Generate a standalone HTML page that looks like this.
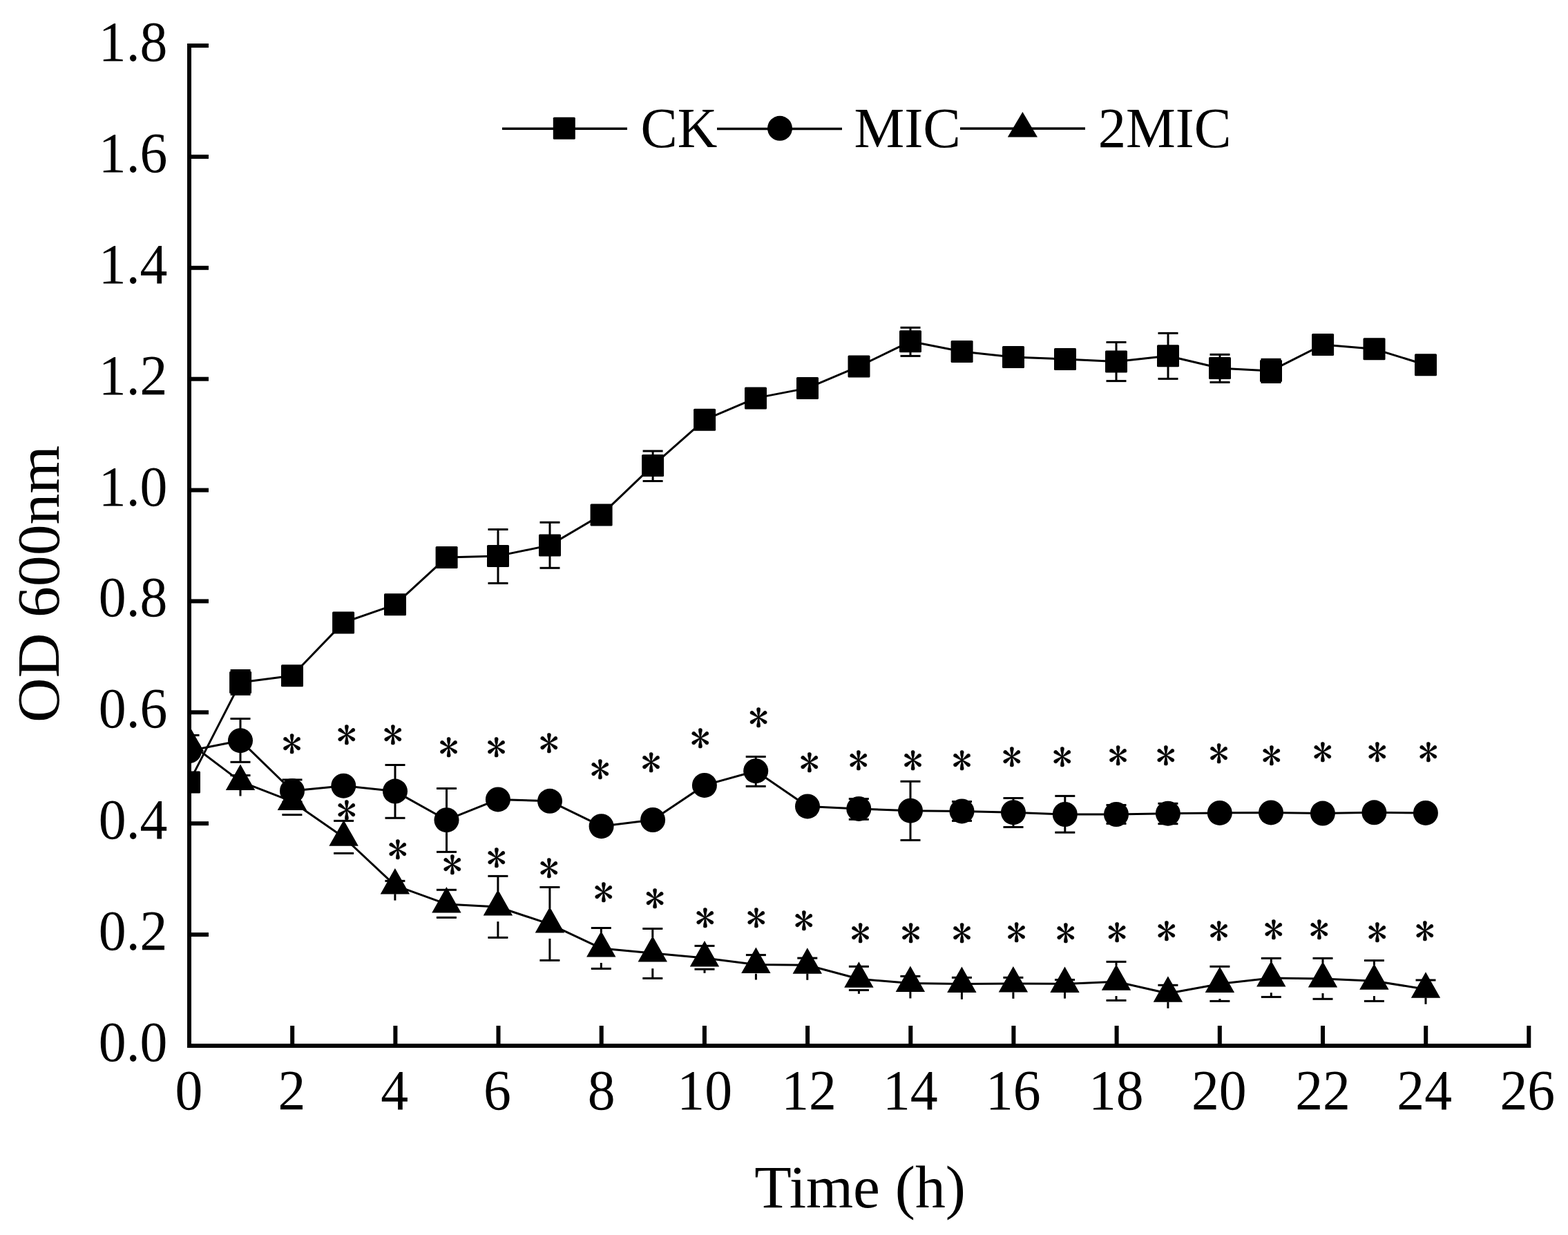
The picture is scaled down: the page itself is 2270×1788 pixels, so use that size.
<!DOCTYPE html>
<html><head><meta charset="utf-8"><title>OD600 growth curve</title>
<style>html,body{margin:0;padding:0;background:#fff;}svg{display:block;}</style>
</head><body>
<svg width="2270" height="1788" viewBox="0 0 2270 1788">
<rect width="100%" height="100%" fill="#fff"/>
<defs><clipPath id="pc"><rect x="271" y="0" width="2000" height="1517"/></clipPath></defs>
<g clip-path="url(#pc)">
<path d="M274 1132.4 L348.1 987.9 L423 978.2 L497.1 901.4 L572 875.3 L646.6 806.9 L721 804.9 L796 789.4 L870.6 745.4 L945.1 674.1 L1020.1 607.8 L1094 576.4 L1169 561.9 L1243.5 530.4 L1318 494.3 L1392.6 509 L1467 516.9 L1542 520 L1616 523.5 L1691 515.3 L1766 533 L1840 536.9 L1915.1 498.9 L1989.5 505.3 L2064 528.3" fill="none" stroke="#000" stroke-width="3.0" stroke-linejoin="round"/>
<path d="M274 1087 L348 1072.2 L423 1145 L497.3 1137.7 L572 1145.6 L646.5 1187.2 L720.9 1157.4 L796 1159.8 L870.6 1196.2 L945.1 1187 L1019.9 1136.9 L1094.2 1116.2 L1169 1167.4 L1243.3 1170.9 L1318 1173.7 L1392.5 1174.4 L1467 1176.2 L1541.8 1179 L1616 1179 L1690.9 1177.7 L1765.8 1176.9 L1840 1176.4 L1914.9 1177.6 L1989.4 1176.3 L2063.9 1176.9" fill="none" stroke="#000" stroke-width="3.0" stroke-linejoin="round"/>
<path d="M274 1075.5 L348 1131.4 L422.9 1160.4 L497.6 1212.2 L571.9 1281.9 L646.4 1308.9 L720.9 1313 L795.9 1337.9 L870.3 1372.9 L944.8 1379.9 L1020 1386.9 L1094.4 1396.5 L1168.8 1397.2 L1243.4 1417.3 L1317.9 1423.5 L1392.4 1424.4 L1466.9 1424 L1541.5 1424.4 L1616 1421.2 L1690.9 1438.2 L1765.9 1424.4 L1840.3 1416.1 L1915 1417 L1989.4 1420.2 L2064 1432.2" fill="none" stroke="#000" stroke-width="3.0" stroke-linejoin="round"/>
<g fill="#000">
<rect x="346.6" y="970.5" width="3.0" height="34.8"/>
<rect x="333.6" y="969" width="29" height="3.0"/>
<rect x="333.6" y="1003.8" width="29" height="3.0"/>
<rect x="719.5" y="766.5" width="3.0" height="77.9"/>
<rect x="706.5" y="765" width="29" height="3.0"/>
<rect x="706.5" y="842.9" width="29" height="3.0"/>
<rect x="794.5" y="756.3" width="3.0" height="66"/>
<rect x="781.5" y="754.8" width="29" height="3.0"/>
<rect x="781.5" y="820.8" width="29" height="3.0"/>
<rect x="943.6" y="653" width="3.0" height="43.5"/>
<rect x="930.6" y="651.5" width="29" height="3.0"/>
<rect x="930.6" y="695" width="29" height="3.0"/>
<rect x="1316.5" y="474.3" width="3.0" height="41.1"/>
<rect x="1303.5" y="472.8" width="29" height="3.0"/>
<rect x="1303.5" y="513.9" width="29" height="3.0"/>
<rect x="1614.5" y="495.5" width="3.0" height="56.1"/>
<rect x="1601.5" y="494" width="29" height="3.0"/>
<rect x="1601.5" y="550.1" width="29" height="3.0"/>
<rect x="1689.5" y="482.4" width="3.0" height="66"/>
<rect x="1676.5" y="480.9" width="29" height="3.0"/>
<rect x="1676.5" y="546.9" width="29" height="3.0"/>
<rect x="1764.5" y="513.3" width="3.0" height="40.2"/>
<rect x="1751.5" y="511.8" width="29" height="3.0"/>
<rect x="1751.5" y="552" width="29" height="3.0"/>
<rect x="1838.5" y="520.3" width="3.0" height="33.2"/>
<rect x="1825.5" y="518.8" width="29" height="3.0"/>
<rect x="1825.5" y="552" width="29" height="3.0"/>
<rect x="346.5" y="1040.5" width="3.0" height="62.8"/>
<rect x="333.5" y="1039" width="29" height="3.0"/>
<rect x="333.5" y="1101.8" width="29" height="3.0"/>
<rect x="421.5" y="1128.9" width="3.0" height="32.1"/>
<rect x="408.5" y="1127.4" width="29" height="3.0"/>
<rect x="408.5" y="1159.5" width="29" height="3.0"/>
<rect x="570.5" y="1107.5" width="3.0" height="76.8"/>
<rect x="557.5" y="1106" width="29" height="3.0"/>
<rect x="557.5" y="1182.8" width="29" height="3.0"/>
<rect x="645" y="1141.5" width="3.0" height="91.9"/>
<rect x="632" y="1140" width="29" height="3.0"/>
<rect x="632" y="1231.9" width="29" height="3.0"/>
<rect x="1092.7" y="1095.5" width="3.0" height="42.9"/>
<rect x="1079.7" y="1094" width="29" height="3.0"/>
<rect x="1079.7" y="1136.9" width="29" height="3.0"/>
<rect x="1241.8" y="1156.5" width="3.0" height="29.8"/>
<rect x="1228.8" y="1155" width="29" height="3.0"/>
<rect x="1228.8" y="1184.8" width="29" height="3.0"/>
<rect x="1316.5" y="1131.3" width="3.0" height="85.1"/>
<rect x="1303.5" y="1129.8" width="29" height="3.0"/>
<rect x="1303.5" y="1214.9" width="29" height="3.0"/>
<rect x="1391" y="1160.5" width="3.0" height="27.9"/>
<rect x="1378" y="1159" width="29" height="3.0"/>
<rect x="1378" y="1186.9" width="29" height="3.0"/>
<rect x="1465.5" y="1155.5" width="3.0" height="42"/>
<rect x="1452.5" y="1154" width="29" height="3.0"/>
<rect x="1452.5" y="1196" width="29" height="3.0"/>
<rect x="1540.3" y="1152.4" width="3.0" height="52.8"/>
<rect x="1527.3" y="1150.9" width="29" height="3.0"/>
<rect x="1527.3" y="1203.7" width="29" height="3.0"/>
<rect x="1614.5" y="1165.5" width="3.0" height="26.9"/>
<rect x="1601.5" y="1164" width="29" height="3.0"/>
<rect x="1601.5" y="1190.9" width="29" height="3.0"/>
<rect x="1689.4" y="1163.3" width="3.0" height="29.4"/>
<rect x="1676.4" y="1161.8" width="29" height="3.0"/>
<rect x="1676.4" y="1191.2" width="29" height="3.0"/>
<rect x="259.5" y="1063" width="29" height="3.0"/>
<rect x="333.5" y="1121.1" width="29" height="3.0"/>
<rect x="346.5" y="1143.7" width="3.0" height="8.8"/>
<rect x="408.4" y="1178.1" width="29" height="3.0"/>
<rect x="483.1" y="1186.9" width="29" height="3.0"/>
<rect x="483.1" y="1233.9" width="29" height="3.0"/>
<rect x="557.4" y="1273.9" width="29" height="3.0"/>
<rect x="570.4" y="1294.2" width="3.0" height="9.4"/>
<rect x="631.9" y="1286.8" width="29" height="3.0"/>
<rect x="631.9" y="1326.9" width="29" height="3.0"/>
<rect x="706.4" y="1266.9" width="29" height="3.0"/>
<rect x="719.4" y="1268.4" width="3.0" height="21.6"/>
<rect x="719.4" y="1334.2" width="3.0" height="23.2"/>
<rect x="706.4" y="1355.9" width="29" height="3.0"/>
<rect x="781.4" y="1283" width="29" height="3.0"/>
<rect x="794.4" y="1284.5" width="3.0" height="30.5"/>
<rect x="794.4" y="1358.9" width="3.0" height="31.5"/>
<rect x="781.4" y="1388.9" width="29" height="3.0"/>
<rect x="855.8" y="1342" width="29" height="3.0"/>
<rect x="868.8" y="1343.5" width="3.0" height="6.5"/>
<rect x="868.8" y="1394" width="3.0" height="8.4"/>
<rect x="855.8" y="1400.9" width="29" height="3.0"/>
<rect x="930.3" y="1343" width="29" height="3.0"/>
<rect x="943.3" y="1344.5" width="3.0" height="12.5"/>
<rect x="943.3" y="1402.2" width="3.0" height="14.2"/>
<rect x="930.3" y="1414.9" width="29" height="3.0"/>
<rect x="1005.5" y="1367.9" width="29" height="3.0"/>
<rect x="1005.5" y="1401.7" width="29" height="3.0"/>
<rect x="1018.5" y="1403.2" width="3.0" height="5.6"/>
<rect x="1079.9" y="1381.1" width="29" height="3.0"/>
<rect x="1092.9" y="1409.7" width="3.0" height="8.8"/>
<rect x="1154.3" y="1385.6" width="29" height="3.0"/>
<rect x="1167.3" y="1409.5" width="3.0" height="9.3"/>
<rect x="1228.9" y="1397.8" width="29" height="3.0"/>
<rect x="1228.9" y="1432" width="29" height="3.0"/>
<rect x="1241.9" y="1433.5" width="3.0" height="5.3"/>
<rect x="1303.4" y="1411.9" width="29" height="3.0"/>
<rect x="1316.4" y="1435.8" width="3.0" height="9.6"/>
<rect x="1377.9" y="1413.8" width="29" height="3.0"/>
<rect x="1390.9" y="1436.7" width="3.0" height="10.1"/>
<rect x="1452.4" y="1413.8" width="29" height="3.0"/>
<rect x="1465.4" y="1436.3" width="3.0" height="9.5"/>
<rect x="1527" y="1417" width="29" height="3.0"/>
<rect x="1540" y="1436.7" width="3.0" height="8.9"/>
<rect x="1601.5" y="1390.9" width="29" height="3.0"/>
<rect x="1614.5" y="1392.4" width="3.0" height="5.6"/>
<rect x="1614.5" y="1442" width="3.0" height="6.4"/>
<rect x="1601.5" y="1446.9" width="29" height="3.0"/>
<rect x="1676.4" y="1424.8" width="29" height="3.0"/>
<rect x="1689.4" y="1450.5" width="3.0" height="9.3"/>
<rect x="1751.4" y="1397.8" width="29" height="3.0"/>
<rect x="1764.4" y="1446" width="3.0" height="3.4"/>
<rect x="1751.4" y="1447.9" width="29" height="3.0"/>
<rect x="1825.8" y="1385.9" width="29" height="3.0"/>
<rect x="1838.8" y="1387.4" width="3.0" height="5.6"/>
<rect x="1838.8" y="1437.2" width="3.0" height="6.2"/>
<rect x="1825.8" y="1441.9" width="29" height="3.0"/>
<rect x="1900.5" y="1385.9" width="29" height="3.0"/>
<rect x="1913.5" y="1387.4" width="3.0" height="6.6"/>
<rect x="1913.5" y="1438" width="3.0" height="8.3"/>
<rect x="1900.5" y="1444.8" width="29" height="3.0"/>
<rect x="1974.9" y="1389.1" width="29" height="3.0"/>
<rect x="1987.9" y="1390.6" width="3.0" height="6.4"/>
<rect x="1987.9" y="1442" width="3.0" height="7.4"/>
<rect x="1974.9" y="1447.9" width="29" height="3.0"/>
<rect x="2049.5" y="1417.5" width="29" height="3.0"/>
<rect x="2062.5" y="1444.5" width="3.0" height="9.3"/>
<rect x="258" y="1116.4" width="32" height="32" rx="1.5"/>
<rect x="332.1" y="971.9" width="32" height="32" rx="1.5"/>
<rect x="407" y="962.2" width="32" height="32" rx="1.5"/>
<rect x="481.1" y="885.4" width="32" height="32" rx="1.5"/>
<rect x="556" y="859.3" width="32" height="32" rx="1.5"/>
<rect x="630.6" y="790.9" width="32" height="32" rx="1.5"/>
<rect x="705" y="788.9" width="32" height="32" rx="1.5"/>
<rect x="780" y="773.4" width="32" height="32" rx="1.5"/>
<rect x="854.6" y="729.4" width="32" height="32" rx="1.5"/>
<rect x="929.1" y="658.1" width="32" height="32" rx="1.5"/>
<rect x="1004.1" y="591.8" width="32" height="32" rx="1.5"/>
<rect x="1078" y="560.4" width="32" height="32" rx="1.5"/>
<rect x="1153" y="545.9" width="32" height="32" rx="1.5"/>
<rect x="1227.5" y="514.4" width="32" height="32" rx="1.5"/>
<rect x="1302" y="478.3" width="32" height="32" rx="1.5"/>
<rect x="1376.6" y="493" width="32" height="32" rx="1.5"/>
<rect x="1451" y="500.9" width="32" height="32" rx="1.5"/>
<rect x="1526" y="504" width="32" height="32" rx="1.5"/>
<rect x="1600" y="507.5" width="32" height="32" rx="1.5"/>
<rect x="1675" y="499.3" width="32" height="32" rx="1.5"/>
<rect x="1750" y="517" width="32" height="32" rx="1.5"/>
<rect x="1824" y="520.9" width="32" height="32" rx="1.5"/>
<rect x="1899.1" y="482.9" width="32" height="32" rx="1.5"/>
<rect x="1973.5" y="489.3" width="32" height="32" rx="1.5"/>
<rect x="2048" y="512.3" width="32" height="32" rx="1.5"/>
<circle cx="274" cy="1087" r="18"/>
<circle cx="348" cy="1072.2" r="18"/>
<circle cx="423" cy="1145" r="18"/>
<circle cx="497.3" cy="1137.7" r="18"/>
<circle cx="572" cy="1145.6" r="18"/>
<circle cx="646.5" cy="1187.2" r="18"/>
<circle cx="720.9" cy="1157.4" r="18"/>
<circle cx="796" cy="1159.8" r="18"/>
<circle cx="870.6" cy="1196.2" r="18"/>
<circle cx="945.1" cy="1187" r="18"/>
<circle cx="1019.9" cy="1136.9" r="18"/>
<circle cx="1094.2" cy="1116.2" r="18"/>
<circle cx="1169" cy="1167.4" r="18"/>
<circle cx="1243.3" cy="1170.9" r="18"/>
<circle cx="1318" cy="1173.7" r="18"/>
<circle cx="1392.5" cy="1174.4" r="18"/>
<circle cx="1467" cy="1176.2" r="18"/>
<circle cx="1541.8" cy="1179" r="18"/>
<circle cx="1616" cy="1179" r="18"/>
<circle cx="1690.9" cy="1177.7" r="18"/>
<circle cx="1765.8" cy="1176.9" r="18"/>
<circle cx="1840" cy="1176.4" r="18"/>
<circle cx="1914.9" cy="1177.6" r="18"/>
<circle cx="1989.4" cy="1176.3" r="18"/>
<circle cx="2063.9" cy="1176.9" r="18"/>
<path d="M274 1050.5 L295.2 1088 L252.8 1088Z"/>
<path d="M348 1106.4 L369.2 1143.9 L326.8 1143.9Z"/>
<path d="M422.9 1135.4 L444.1 1172.9 L401.7 1172.9Z"/>
<path d="M497.6 1187.2 L518.8 1224.7 L476.4 1224.7Z"/>
<path d="M571.9 1256.9 L593.1 1294.4 L550.7 1294.4Z"/>
<path d="M646.4 1283.9 L667.6 1321.4 L625.2 1321.4Z"/>
<path d="M720.9 1288 L742.1 1325.5 L699.7 1325.5Z"/>
<path d="M795.9 1312.9 L817.1 1350.4 L774.7 1350.4Z"/>
<path d="M870.3 1347.9 L891.5 1385.4 L849.1 1385.4Z"/>
<path d="M944.8 1354.9 L966 1392.4 L923.6 1392.4Z"/>
<path d="M1020 1361.9 L1041.2 1399.4 L998.8 1399.4Z"/>
<path d="M1094.4 1371.5 L1115.6 1409 L1073.2 1409Z"/>
<path d="M1168.8 1372.2 L1190 1409.7 L1147.6 1409.7Z"/>
<path d="M1243.4 1392.3 L1264.6 1429.8 L1222.2 1429.8Z"/>
<path d="M1317.9 1398.5 L1339.1 1436 L1296.7 1436Z"/>
<path d="M1392.4 1399.4 L1413.6 1436.9 L1371.2 1436.9Z"/>
<path d="M1466.9 1399 L1488.1 1436.5 L1445.7 1436.5Z"/>
<path d="M1541.5 1399.4 L1562.7 1436.9 L1520.3 1436.9Z"/>
<path d="M1616 1396.2 L1637.2 1433.7 L1594.8 1433.7Z"/>
<path d="M1690.9 1413.2 L1712.1 1450.7 L1669.7 1450.7Z"/>
<path d="M1765.9 1399.4 L1787.1 1436.9 L1744.7 1436.9Z"/>
<path d="M1840.3 1391.1 L1861.5 1428.6 L1819.1 1428.6Z"/>
<path d="M1915 1392 L1936.2 1429.5 L1893.8 1429.5Z"/>
<path d="M1989.4 1395.2 L2010.6 1432.7 L1968.2 1432.7Z"/>
<path d="M2064 1407.2 L2085.2 1444.7 L2042.8 1444.7Z"/>
</g>
</g>
<g fill="#000">
<rect x="271" y="63" width="6" height="1454"/>
<rect x="271" y="1511" width="1945" height="6"/>
<rect x="271" y="1511" width="31" height="6"/>
<rect x="271" y="1350.1" width="31" height="6"/>
<rect x="271" y="1189.2" width="31" height="6"/>
<rect x="271" y="1028.3" width="31" height="6"/>
<rect x="271" y="867.4" width="31" height="6"/>
<rect x="271" y="706.6" width="31" height="6"/>
<rect x="271" y="545.7" width="31" height="6"/>
<rect x="271" y="384.8" width="31" height="6"/>
<rect x="271" y="223.9" width="31" height="6"/>
<rect x="271" y="63" width="31" height="6"/>
<rect x="271" y="1485" width="6" height="32"/>
<rect x="420.2" y="1485" width="6" height="32"/>
<rect x="569.4" y="1485" width="6" height="32"/>
<rect x="718.5" y="1485" width="6" height="32"/>
<rect x="867.7" y="1485" width="6" height="32"/>
<rect x="1016.9" y="1485" width="6" height="32"/>
<rect x="1166.1" y="1485" width="6" height="32"/>
<rect x="1315.3" y="1485" width="6" height="32"/>
<rect x="1464.4" y="1485" width="6" height="32"/>
<rect x="1613.6" y="1485" width="6" height="32"/>
<rect x="1762.8" y="1485" width="6" height="32"/>
<rect x="1912" y="1485" width="6" height="32"/>
<rect x="2061.2" y="1485" width="6" height="32"/>
<rect x="2210.3" y="1485" width="6" height="32"/>
</g>
<g font-family="Liberation Serif, 'Times New Roman', serif" font-size="81.8" fill="#000">
<text transform="translate(242.5 1536) scale(0.975 1)" text-anchor="end">0.0</text>
<text transform="translate(242.5 1375.1) scale(0.975 1)" text-anchor="end">0.2</text>
<text transform="translate(242.5 1214.2) scale(0.975 1)" text-anchor="end">0.4</text>
<text transform="translate(242.5 1053.3) scale(0.975 1)" text-anchor="end">0.6</text>
<text transform="translate(242.5 892.4) scale(0.975 1)" text-anchor="end">0.8</text>
<text transform="translate(242.5 731.6) scale(0.975 1)" text-anchor="end">1.0</text>
<text transform="translate(242.5 570.7) scale(0.975 1)" text-anchor="end">1.2</text>
<text transform="translate(242.5 409.8) scale(0.975 1)" text-anchor="end">1.4</text>
<text transform="translate(242.5 248.9) scale(0.975 1)" text-anchor="end">1.6</text>
<text transform="translate(242.5 88) scale(0.975 1)" text-anchor="end">1.8</text>
<text transform="translate(273.5 1606) scale(0.975 1)" text-anchor="middle">0</text>
<text transform="translate(422.5 1606) scale(0.975 1)" text-anchor="middle">2</text>
<text transform="translate(571.3 1606) scale(0.975 1)" text-anchor="middle">4</text>
<text transform="translate(719.9 1606) scale(0.975 1)" text-anchor="middle">6</text>
<text transform="translate(870.7 1606) scale(0.975 1)" text-anchor="middle">8</text>
<text transform="translate(1020.2 1606) scale(0.975 1)" text-anchor="middle">10</text>
<text transform="translate(1171 1606) scale(0.975 1)" text-anchor="middle">12</text>
<text transform="translate(1317.8 1606) scale(0.975 1)" text-anchor="middle">14</text>
<text transform="translate(1466.8 1606) scale(0.975 1)" text-anchor="middle">16</text>
<text transform="translate(1615.8 1606) scale(0.975 1)" text-anchor="middle">18</text>
<text transform="translate(1764.8 1606) scale(0.975 1)" text-anchor="middle">20</text>
<text transform="translate(1915 1606) scale(0.975 1)" text-anchor="middle">22</text>
<text transform="translate(2062.2 1606) scale(0.975 1)" text-anchor="middle">24</text>
<text transform="translate(2211.3 1606) scale(0.975 1)" text-anchor="middle">26</text>
<text transform="translate(927.5 213) scale(0.975 1)">CK</text>
<text transform="translate(1236.4 213) scale(1.0 1)">MIC</text>
<text transform="translate(1589.8 213) scale(0.986 1)">2MIC</text>
</g>
<text font-family="Liberation Serif, 'Times New Roman', serif" font-size="87.6" transform="translate(1092.2 1748)">Time (h)</text>
<text font-family="Liberation Serif, 'Times New Roman', serif" font-size="87.5" transform="translate(85.4 1046) rotate(-90) scale(1.025 1)">OD 600nm</text>
<g fill="#000">
<rect x="727" y="184.55" width="181" height="3.5"/>
<rect x="1038" y="184.75" width="181" height="3.5"/>
<rect x="1390" y="184.35" width="181" height="3.5"/>
<rect x="800.8" y="169.8" width="32" height="32" rx="1.5"/>
<circle cx="1129" cy="185.8" r="18"/>
<path d="M1480.4 161.9 L1502 198.5 L1458.8 198.5Z"/>
</g>
<g font-family="IPAGothic, sans-serif" font-size="57.5" text-anchor="middle" fill="#000" stroke="#000" stroke-width="0.5" stroke-linejoin="round">
<text x="422.7" y="1097.8">*</text>
<text x="501.8" y="1084.8">*</text>
<text x="568.8" y="1084.8">*</text>
<text x="649.7" y="1102.8">*</text>
<text x="718.7" y="1102.8">*</text>
<text x="794.8" y="1096.8">*</text>
<text x="868.8" y="1134.8">*</text>
<text x="942.6" y="1124.8">*</text>
<text x="1013.9" y="1089.8">*</text>
<text x="1098" y="1059.8">*</text>
<text x="1171.8" y="1124.7">*</text>
<text x="1242.9" y="1121.8">*</text>
<text x="1321.7" y="1121.8">*</text>
<text x="1392.6" y="1121.8">*</text>
<text x="1464.9" y="1116.8">*</text>
<text x="1537.8" y="1116.8">*</text>
<text x="1618.7" y="1114.8">*</text>
<text x="1687.9" y="1114.8">*</text>
<text x="1764.7" y="1111.7">*</text>
<text x="1840.9" y="1114.8">*</text>
<text x="1914.8" y="1109.7">*</text>
<text x="1993.8" y="1109.7">*</text>
<text x="2067.8" y="1109.7">*</text>
<text x="501.8" y="1193.8">*</text>
<text x="575.9" y="1250.7">*</text>
<text x="654.8" y="1272.8">*</text>
<text x="718.8" y="1262.6">*</text>
<text x="794.8" y="1277.8">*</text>
<text x="873.9" y="1312.8">*</text>
<text x="948" y="1321.6">*</text>
<text x="1020.8" y="1350">*</text>
<text x="1094.8" y="1350">*</text>
<text x="1163.8" y="1353.8">*</text>
<text x="1245.6" y="1371.6">*</text>
<text x="1318.7" y="1371.6">*</text>
<text x="1392.6" y="1371.6">*</text>
<text x="1471.6" y="1370.8">*</text>
<text x="1542.8" y="1371.9">*</text>
<text x="1617" y="1370.8">*</text>
<text x="1688.8" y="1368.7">*</text>
<text x="1764.7" y="1368.7">*</text>
<text x="1843.8" y="1366.8">*</text>
<text x="1909.8" y="1366.8">*</text>
<text x="1993.8" y="1370.8">*</text>
<text x="2062.9" y="1368.7">*</text>
</g>
</svg>
</body></html>
